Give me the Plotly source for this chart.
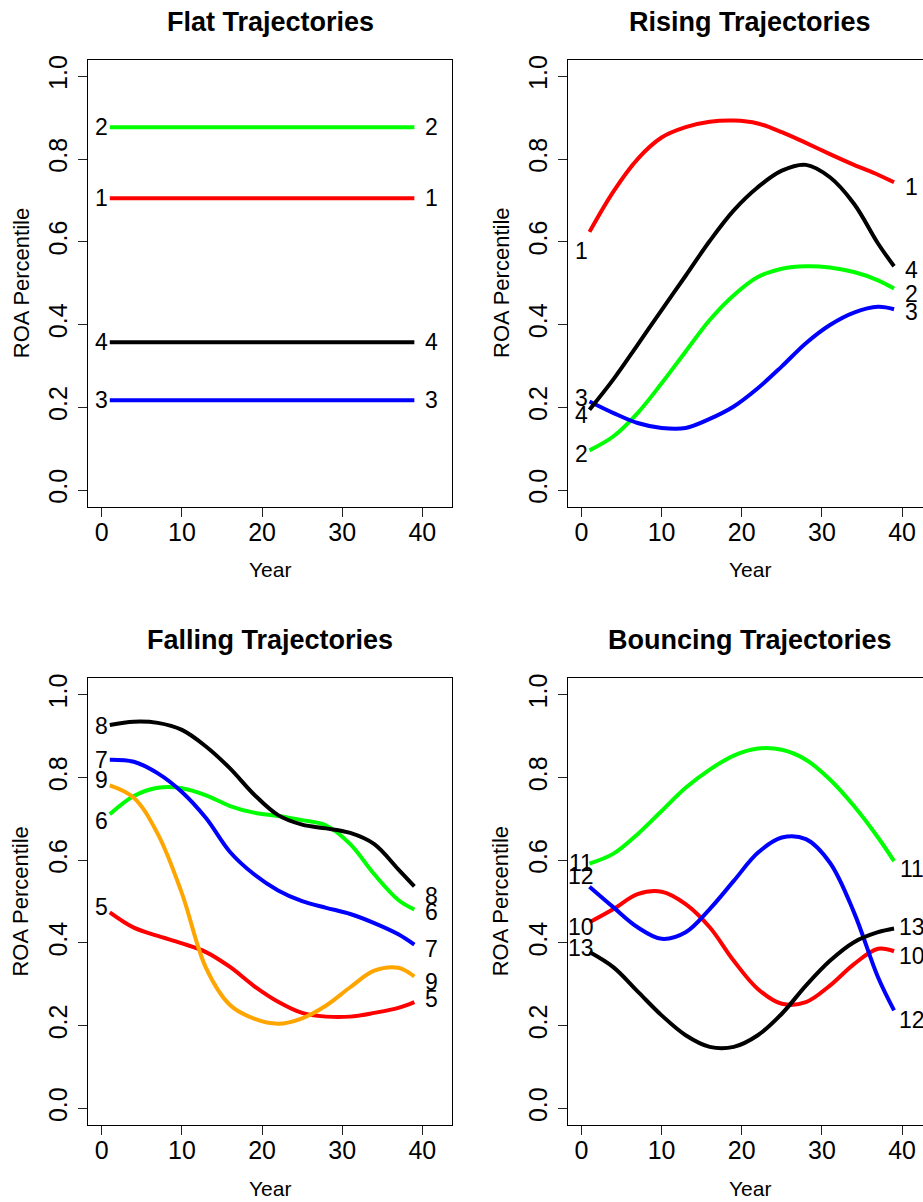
import plotly.graph_objects as go

# ---------------- data ----------------
years = [1, 4, 7, 10, 13, 16, 19, 22, 25, 28, 31, 34, 37, 39]
flat_years = [1, 39]

# Flat trajectories
flat_1 = [0.705, 0.705]
flat_2 = [0.877, 0.877]
flat_3 = [0.217, 0.217]
flat_4 = [0.357, 0.357]

# Rising trajectories
rise_1 = [.624, .722, .800, .852, .877, .890, .893, .886, .865, .839, .812, .786, .762, .744]
rise_2 = [.096, .130, .186, .258, .335, .411, .471, .515, .535, .541, .538, .527, .507, .487]
rise_3 = [.214, .186, .162, .150, .150, .172, .202, .246, .299, .355, .399, .429, .443, .437]
rise_4 = [.194, .268, .351, .435, .518, .602, .676, .732, .772, .786, .756, .692, .596, .541]

# Falling trajectories
fall_5 = [.474, .437, .417, .399, .378, .342, .296, .258, .231, .222, .222, .231, .243, .257]
fall_6 = [.711, .755, .775, .774, .757, .731, .715, .707, .697, .684, .639, .566, .504, .481]
fall_7 = [.843, .838, .810, .765, .702, .620, .566, .527, .501, .485, .470, .448, .421, .396]
fall_8 = [.927, .935, .932, .915, .875, .822, .759, .709, .686, .677, .666, .639, .578, .537]
fall_9 = [.781, .751, .663, .520, .340, .250, .217, .205, .218, .249, .293, .333, .340, .319]

# Bouncing trajectories
bnc_10 = [.450, .482, .518, .524, .494, .438, .357, .289, .253, .257, .297, .349, .386, .380]
bnc_11 = [.592, .616, .663, .719, .775, .819, .853, .870, .867, .843, .795, .731, .655, .598]
bnc_12 = [.536, .486, .438, .410, .426, .482, .550, .618, .655, .651, .594, .474, .317, .237]
bnc_13 = [.378, .341, .283, .225, .177, .149, .149, .177, .229, .297, .357, .402, .426, .435]

# end labels: (label, left y, right y)
flat_labels = [("1", .705, .705), ("2", .877, .877), ("3", .217, .217), ("4", .357, .357)]
rise_labels = [("1", .579, .732), ("2", .086, .473), ("3", .222, .431), ("4", .182, .533)]
fall_labels = [("5", .486, .265), ("6", .695, .476), ("7", .843, .386), ("8", .924, .514), ("9", .793, .305)]
bnc_labels = [("10", .438, .369), ("11", .594, .578), ("12", .562, .213), ("13", .388, .438)]

titles = ["Flat Trajectories", "Rising Trajectories", "Falling Trajectories", "Bouncing Trajectories"]
x_ticks = [0, 10, 20, 30, 40]
y_ticks = [0.0, 0.2, 0.4, 0.6, 0.8, 1.0]
y_ticktext = ["0.0", "0.2", "0.4", "0.6", "0.8", "1.0"]
label_x_left = 0
label_x_right = 41.2

# ---------------- layout geometry ----------------
W, H = 923, 1202
FONT = "Liberation Sans, Arial, Helvetica, sans-serif"
RED, GREEN, BLUE, BLACK, ORANGE = "#FF0000", "#00FF00", "#0000FF", "#000000", "#FFA500"

def fx(p):
    return p / W

def fy(p):
    return 1 - p / H

panel_dx = 479.7
panel_dy = 621
box_l, box_r, box_t, box_b = 88.3, 451.7, 55, 503.7
px_per_year = 8.015
x_left = -1.68

fig = go.Figure()

panels = [
    (1, 0, 0, [(flat_years, flat_1, RED), (flat_years, flat_2, GREEN), (flat_years, flat_3, BLUE), (flat_years, flat_4, BLACK)], flat_labels),
    (2, 1, 0, [(years, rise_1, RED), (years, rise_2, GREEN), (years, rise_3, BLUE), (years, rise_4, BLACK)], rise_labels),
    (3, 0, 1, [(years, fall_5, RED), (years, fall_6, GREEN), (years, fall_7, BLUE), (years, fall_8, BLACK), (years, fall_9, ORANGE)], fall_labels),
    (4, 1, 1, [(years, bnc_10, RED), (years, bnc_11, GREEN), (years, bnc_12, BLUE), (years, bnc_13, BLACK)], bnc_labels),
]

annotations = []
for idx, col, row, series, labels in panels:
    sfx = "" if idx == 1 else str(idx)
    xa, ya = "x" + sfx, "y" + sfx
    l = box_l + col * panel_dx
    r = box_r + col * panel_dx
    t = box_t + row * panel_dy
    b = box_b + row * panel_dy
    r_vis = min(r, W)
    x_right = x_left + (r_vis - l) / px_per_year
    for xs, ys, c in series:
        fig.add_trace(go.Scatter(
            x=xs, y=ys, mode="lines", xaxis=xa, yaxis=ya,
            line=dict(color=c, width=4, shape="spline", smoothing=1.0),
            showlegend=False, hoverinfo="skip"))
    axis_common = dict(showgrid=False, zeroline=False, showline=True, linecolor="black",
                       linewidth=1, ticks="outside", ticklen=9, tickwidth=1, tickcolor="#222",
                       tickfont=dict(family=FONT, size=25, color="black"))
    fig.layout["xaxis" + sfx] = dict(
        domain=[fx(l), fx(r_vis)], range=[x_left, x_right], anchor=ya,
        tickvals=x_ticks, ticktext=[str(v) for v in x_ticks], mirror=True,
        ticklabelstandoff=-6, **axis_common)
    fig.layout["yaxis" + sfx] = dict(
        domain=[fy(b), fy(t)], range=[-0.04, 1.04], anchor=xa,
        tickvals=y_ticks, ticktext=y_ticktext, tickangle=-90,
        mirror=(r <= W), ticklabelstandoff=1, **axis_common)
    for lab, yl, yr in labels:
        for xv, yv in ((label_x_left, yl), (label_x_right, yr)):
            annotations.append(dict(x=xv, y=yv, xref=xa, yref=ya, text=lab, showarrow=False,
                                    xanchor="center", yanchor="middle",
                                    font=dict(family=FONT, size=23, color="black")))
    cx = (box_l + box_r) / 2 + col * panel_dx
    annotations.append(dict(x=fx(cx), y=fy(17 + row * panel_dy), xref="paper", yref="paper",
                            text="<b>" + titles[idx - 1] + "</b>", showarrow=False,
                            xanchor="center", yanchor="middle",
                            font=dict(family=FONT, size=27, color="black")))
    annotations.append(dict(x=fx(cx), y=fy(567 + row * panel_dy), xref="paper", yref="paper",
                            text="Year", showarrow=False, xanchor="center", yanchor="middle",
                            font=dict(family=FONT, size=21, color="black")))
    annotations.append(dict(x=fx(21 + col * panel_dx), y=fy((box_t + box_b) / 2 + row * panel_dy),
                            xref="paper", yref="paper", text="ROA Percentile", textangle=-90,
                            showarrow=False, xanchor="center", yanchor="middle",
                            font=dict(family=FONT, size=22, color="black")))

fig.update_layout(
    width=W, height=H, margin=dict(l=0, r=0, t=0, b=0),
    paper_bgcolor="white", plot_bgcolor="white",
    annotations=annotations, showlegend=False,
    font=dict(family=FONT, color="black"),
)

# pin the figure to the top-left corner of the page (no default body margin)
pin_js = ("document.body.style.margin='0';"
          "var d=document.getElementById('{plot_id}');"
          "d.style.position='fixed';d.style.left='0px';d.style.top='0px';")

fig.write_html("out.html", post_script=pin_js, config={"displayModeBar": False})
